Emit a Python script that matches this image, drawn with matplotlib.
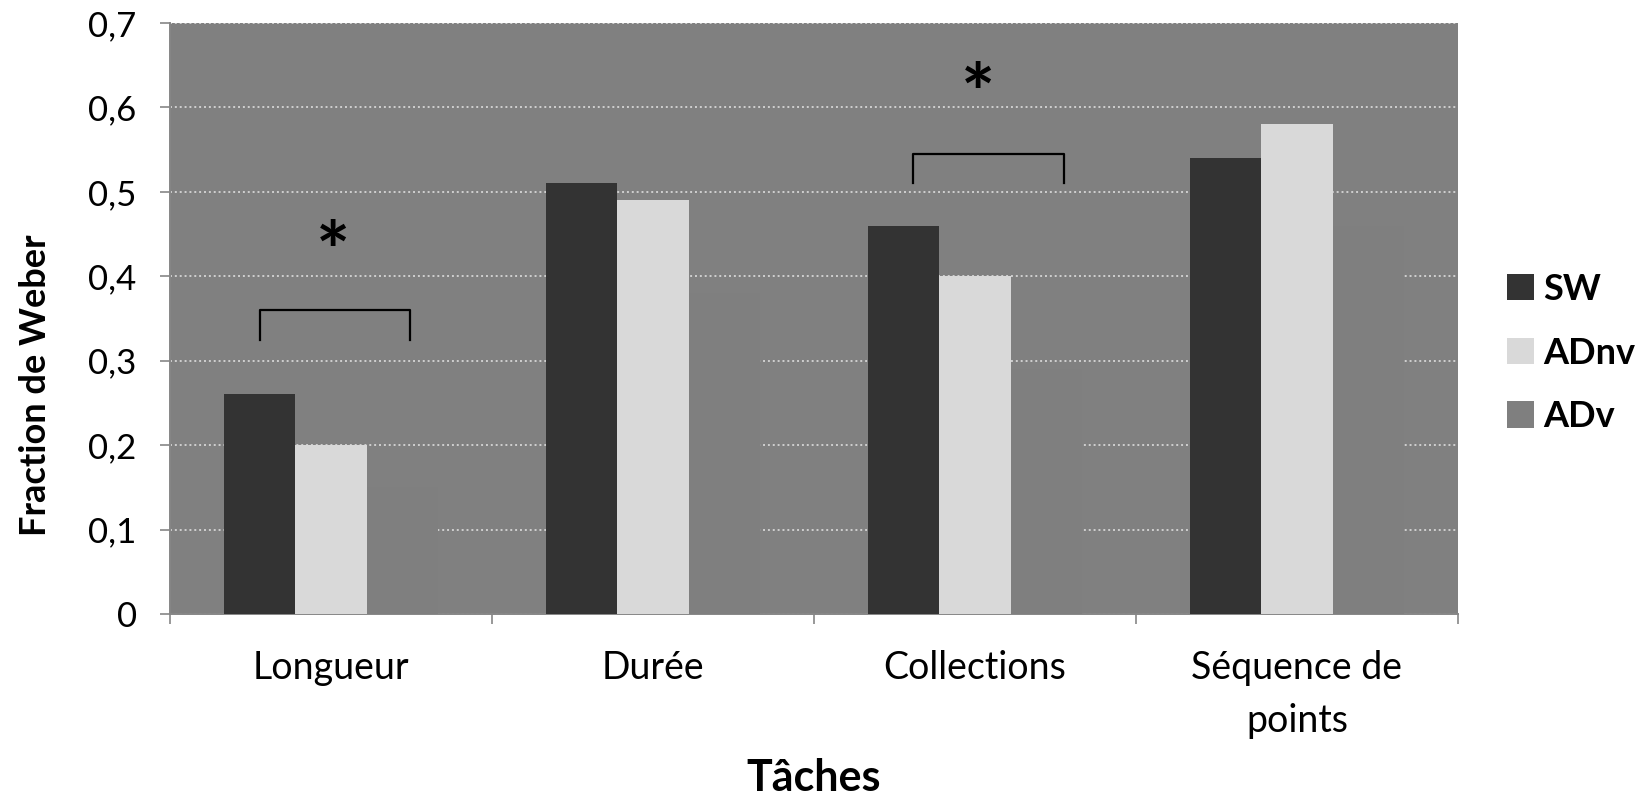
import numpy as np
import matplotlib
matplotlib.use("Agg")
import matplotlib.pyplot as plt
from matplotlib.ticker import FixedLocator, FuncFormatter

# data
categories = ["Longueur", "Durée", "Collections", "Séquence de\npoints"]
series_names = ["SW", "ADnv", "ADv"]
sw_values = [0.26, 0.51, 0.46, 0.54]
adnv_values = [0.20, 0.49, 0.40, 0.58]
adv_values = [0.15, 0.38, 0.29, 0.46]
series_colors = ["#333333", "#d9d9d9", "#7f7f7f"]

# significance markers: category index, bracket left/right offsets, bracket top, leg bottom, star position
sig_index = [0, 2]
sig_left = [-0.222, -0.193]
sig_right = [0.245, 0.275]
sig_top = [0.36, 0.545]
sig_bottom = [0.325, 0.51]
sig_star_x = [0.005, 0.01]
sig_star_y = [0.423, 0.61]

plt.rcParams["font.family"] = ["Lato", "DejaVu Sans"]

fig = plt.figure(figsize=(16.48, 7.98), dpi=100)
ax = fig.add_axes([0.1032, 0.2306, 0.7815, 0.7406])
ax.set_facecolor("#808080")

x = np.arange(len(categories))
width = 1 / 4.5
all_values = [sw_values, adnv_values, adv_values]
for i, (vals, name, col) in enumerate(zip(all_values, series_names, series_colors)):
    ax.bar(x + (i - 1) * width, vals, width, color=col, label=name, zorder=3, linewidth=0)

ax.set_xlim(-0.5, len(categories) - 0.5)
ax.set_ylim(0, 0.7)
ax.set_yticks(np.arange(0, 0.71, 0.1))
ax.yaxis.set_major_formatter(FuncFormatter(lambda v, _: "0" if abs(v) < 1e-9 else f"{v:.1f}".replace(".", ",")))
ax.grid(axis="y", color="#d0d0d0", linestyle=(0, (1, 1.5)), linewidth=1.4, zorder=1)
ax.set_axisbelow(True)

ax.set_xticks(x)
ax.set_xticklabels(categories, fontsize=27, linespacing=1.6)
ax.xaxis.set_minor_locator(FixedLocator(np.arange(-0.5, len(categories), 1)))
ax.tick_params(axis="x", which="major", length=0, pad=26)
ax.tick_params(axis="x", which="minor", length=7, color="#868686", width=1.2)
ax.tick_params(axis="y", length=7, color="#868686", width=1.2, labelsize=25, pad=17)

for side in ["top", "right"]:
    ax.spines[side].set_visible(False)
for side in ["left", "bottom"]:
    ax.spines[side].set_color("#868686")
    ax.spines[side].set_linewidth(1.4)

# significance brackets
for idx, lo, hi, top, bottom, sx, sy in zip(sig_index, sig_left, sig_right, sig_top, sig_bottom,
                                            sig_star_x, sig_star_y):
    x0, x1 = idx + lo, idx + hi
    ax.plot([x0, x0, x1, x1], [bottom, top, top, bottom], color="black", linewidth=1.6, zorder=4)
    ax.text(idx + sx, sy, "*", ha="center", va="center", fontsize=58, fontweight="bold", zorder=4)

fig.text(0.0215, 1 - 385 / 798, "Fraction de Weber", rotation=90, ha="center", va="center",
         fontsize=26, fontweight="bold")
fig.text(0.494, 1 - 778 / 798, "Tâches", ha="center", va="center", fontsize=31, fontweight="bold")

fig.legend(loc="center left", bbox_to_anchor=(0.9035, 1 - 353 / 798), frameon=False,
           prop={"size": 26, "weight": "bold"}, handlelength=0.75, handleheight=0.75,
           handletextpad=0.25, labelspacing=0.85, borderpad=0)

fig.savefig("out.png", dpi=100)
